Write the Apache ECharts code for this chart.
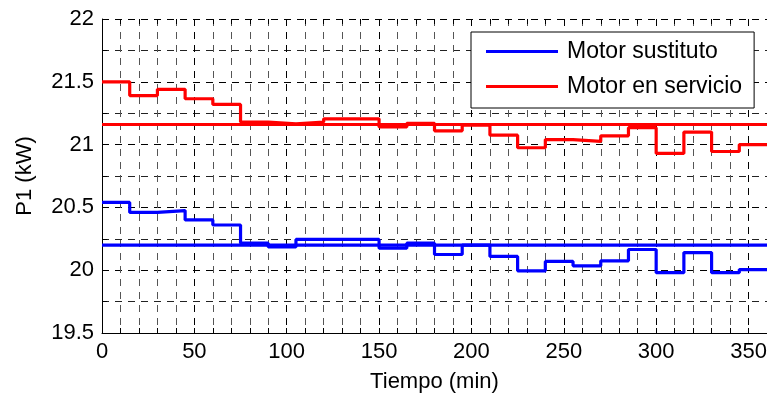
<!DOCTYPE html>
<html>
<head>
<meta charset="utf-8">
<script src="https://cdn.jsdelivr.net/npm/echarts@6/dist/echarts.min.js"></script>
<style>
  html, body { margin: 0; padding: 0; background: #fff; }
  #chart { width: 767px; height: 398px; }
</style>
</head>
<body>
<div id="chart"></div>
<script>
// tiempo (min) - cada escalon dura 15 min
const tiempo = [0, 15, 30, 45, 60, 75, 90, 105, 120, 135, 150, 165, 180, 195, 210, 225, 240, 255, 270, 285, 300, 315, 330, 345, 360]

// P1 (kW) por intervalo
const sustituto = [20.54, 20.46, 20.475, 20.40, 20.36, 20.215, 20.185, 20.245, 20.245, 20.245, 20.175, 20.215,
  20.125, 20.20, 20.11, 19.995, 20.07, 20.035, 20.075, 20.165, 19.98, 20.14, 19.98, 20.005]
const servicio = [21.50, 21.39, 21.44, 21.365, 21.32, 21.18, 21.165, 21.18, 21.205, 21.205, 21.14, 21.17,
  21.11, 21.155, 21.075, 20.975, 21.04, 21.025, 21.07, 21.135, 20.93, 21.10, 20.945, 21.00]

// valores medios (lineas horizontales)
const sustitutoMedia = [20.2, 20.2]
const servicioMedia = [21.16, 21.16]
const mediaX = [0, 360]

const xLabels = [0, 50, 100, 150, 200, 250, 300, 350]
const yLabels = [19.5, 20, 20.5, 21, 21.5, 22]

const font = 'Liberation Sans, Arial, sans-serif'

function steps(vals) {
  // el ultimo valor se mantiene hasta el final
  return tiempo.map((t, i) => [t, vals[Math.min(i, vals.length - 1)]])
}

const chart = echarts.init(document.getElementById('chart'))
chart.setOption({
  animation: false,
  textStyle: { fontFamily: font, color: '#000' },
  grid: {
    left: 102,
    right: 0,
    top: 19,
    bottom: 65,
    containLabel: false,
    outerBoundsMode: 'none',
  },
  legend: {
    orient: 'vertical',
    left: 471,
    top: 32,
    data: ['Motor sustituto', 'Motor en servicio'],
    icon: 'rect',
    itemWidth: 72,
    itemHeight: 3,
    itemGap: 12,
    padding: [8, 12, 10, 15],
    backgroundColor: '#fff',
    borderColor: '#000',
    borderWidth: 1,
    textStyle: {
      fontFamily: font,
      fontSize: 23,
      lineHeight: 23,
      color: '#000',
      padding: [0, 0, 0, 4],
    },
  },
  xAxis: [
    {
      type: 'value',
      min: 0,
      max: 360,
      interval: 10,
      name: 'Tiempo (min)',
      nameLocation: 'middle',
      nameGap: 38,
      nameTextStyle: { fontSize: 22, color: '#000', fontFamily: font },
      axisLine: { show: true, onZero: false, lineStyle: { color: '#000', width: 1 } },
      axisTick: { show: true, inside: true, length: 5, lineStyle: { color: '#000' } },
      axisLabel: {
        fontSize: 22,
        color: '#000',
        margin: 8,
        showMaxLabel: false,
        formatter: (v) => (xLabels.indexOf(v) >= 0 ? String(v) : ''),
      },
      splitLine: {
        show: true,
        showMinLine: true,
        lineStyle: {
          color: ['#000', '#555', '#555', '#555', '#555'],
          type: [7, 6],
          width: 1,
        },
      },
    },
    {
      type: 'value',
      position: 'top',
      min: 0,
      max: 360,
      interval: 10,
      axisLine: { show: false },
      axisTick: { show: true, inside: true, length: 5, lineStyle: { color: '#000' } },
      axisLabel: { show: false },
      splitLine: { show: false },
    },
  ],
  yAxis: {
    type: 'value',
    min: 19.5,
    max: 22,
    interval: 0.25,
    name: 'P1 (kW)',
    nameLocation: 'middle',
    nameRotate: 90,
    nameGap: 66,
    nameTextStyle: { fontSize: 22, color: '#000', fontFamily: font },
    axisLine: { show: true, onZero: false, lineStyle: { color: '#000', width: 1 } },
    axisTick: { show: true, inside: true, length: 5, lineStyle: { color: '#000' } },
    axisLabel: {
      fontSize: 22,
      color: '#000',
      margin: 8,
      formatter: (v) => (yLabels.indexOf(Math.round(v * 100) / 100) >= 0 ? String(Math.round(v * 100) / 100) : ''),
    },
    splitLine: {
      show: true,
      showMinLine: true,
      lineStyle: {
        color: ['#000', '#222'],
        type: [7, 6],
        width: 1,
      },
    },
  },
  series: [
    {
      name: 'Motor sustituto',
      type: 'line',
      step: 'end',
      showSymbol: false,
      data: steps(sustituto),
      color: '#0000ff',
      lineStyle: { color: '#0000ff', width: 3.2 },
    },
    {
      name: 'Motor en servicio',
      type: 'line',
      step: 'end',
      showSymbol: false,
      data: steps(servicio),
      color: '#ff0000',
      lineStyle: { color: '#ff0000', width: 3.2 },
    },
    {
      name: 'Motor sustituto',
      type: 'line',
      showSymbol: false,
      data: mediaX.map((t, i) => [t, sustitutoMedia[i]]),
      color: '#0000ff',
      lineStyle: { color: '#0000ff', width: 3.2 },
    },
    {
      name: 'Motor en servicio',
      type: 'line',
      showSymbol: false,
      data: mediaX.map((t, i) => [t, servicioMedia[i]]),
      color: '#ff0000',
      lineStyle: { color: '#ff0000', width: 3.2 },
    },
  ],
})
</script>
</body>
</html>
